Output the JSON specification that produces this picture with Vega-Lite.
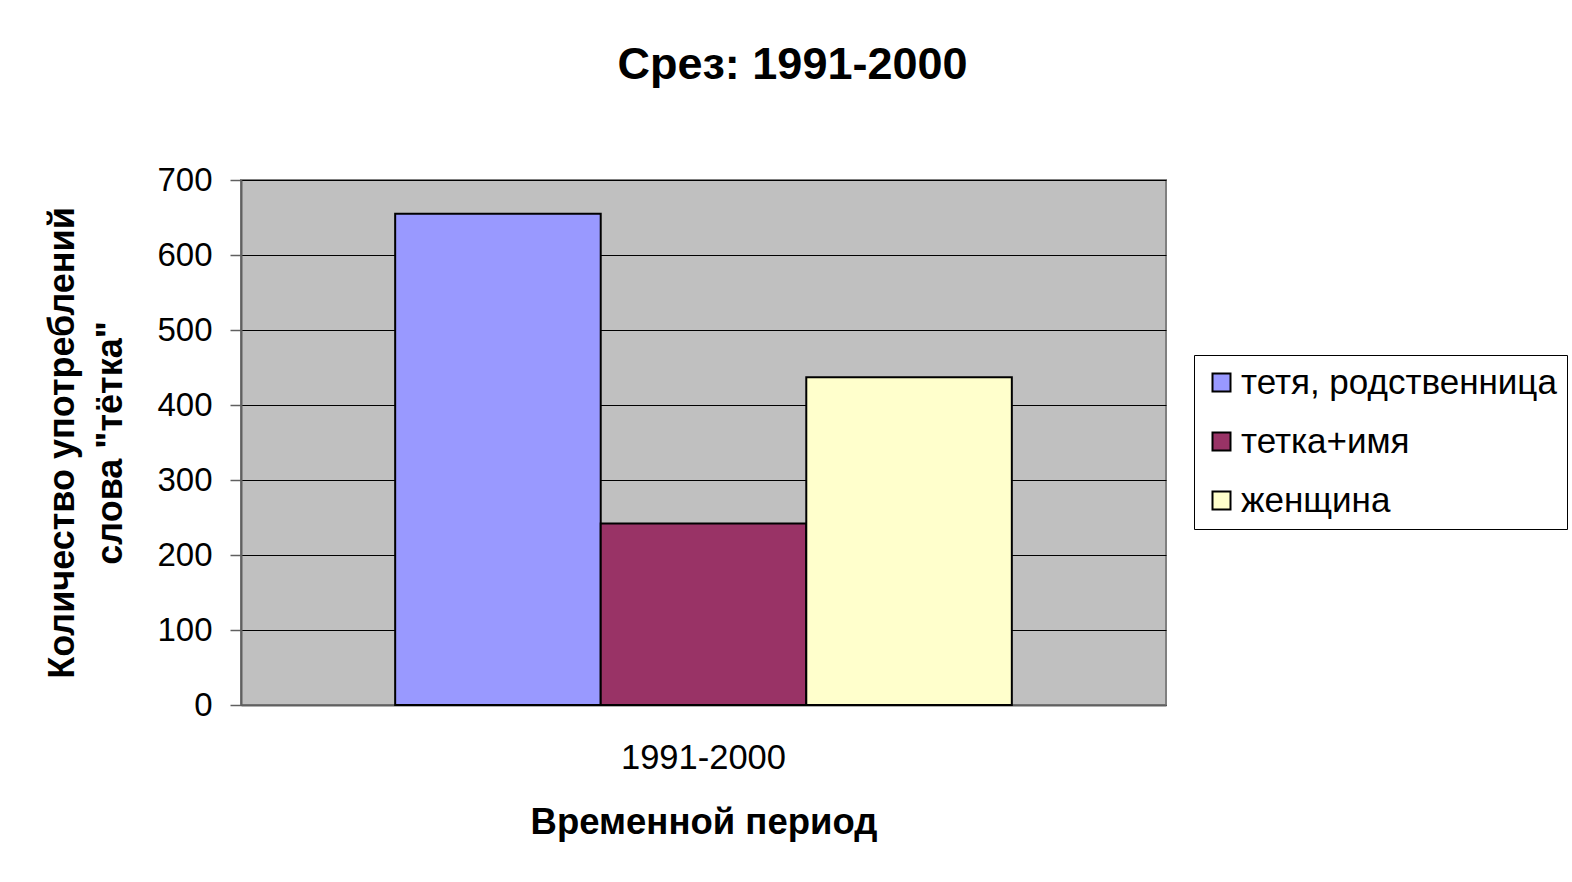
{
  "$schema": "https://vega.github.io/schema/vega-lite/v6.json",
  "autosize": {"type": "none"},
  "width": 925,
  "height": 525,
  "padding": {"left": 241, "top": 180, "right": 406, "bottom": 177},
  "background": "white",
  "title": {
    "text": "Срез: 1991-2000",
    "font": "Liberation Sans",
    "fontSize": 45,
    "fontWeight": "bold",
    "color": "black",
    "anchor": "middle",
    "frame": "group",
    "dx": 89,
    "offset": 76
  },
  "data": {
    "values": [
      {"period": "1991-2000", "series": "тетя, родственница", "count": 655},
      {"period": "1991-2000", "series": "тетка+имя", "count": 242},
      {"period": "1991-2000", "series": "женщина", "count": 437}
    ]
  },
  "mark": {"type": "bar", "stroke": "black", "strokeWidth": 2},
  "encoding": {
    "x": {
      "field": "period",
      "type": "nominal",
      "scale": {"paddingInner": 0, "paddingOuter": 0.25},
      "axis": {
        "title": "Временной период",
        "labelAngle": 0,
        "labelFont": "Liberation Sans",
        "labelFontSize": 34.5,
        "labelColor": "black",
        "labelPadding": 36,
        "ticks": false,
        "domainColor": "#606060",
        "domainWidth": 2,
        "titleFont": "Liberation Sans",
        "titleFontSize": 36.5,
        "titleFontWeight": "bold",
        "titleColor": "black",
        "titlePadding": 30
      }
    },
    "xOffset": {
      "field": "series",
      "type": "nominal",
      "sort": ["тетя, родственница", "тетка+имя", "женщина"],
      "scale": {"paddingInner": 0, "paddingOuter": 0}
    },
    "y": {
      "field": "count",
      "type": "quantitative",
      "scale": {"domain": [0, 700], "nice": false},
      "axis": {
        "title": ["Количество употреблений", "слова \"тётка\""],
        "values": [0, 100, 200, 300, 400, 500, 600, 700],
        "labelFont": "Liberation Sans",
        "labelFontSize": 33,
        "labelColor": "black",
        "labelPadding": 18,
        "tickSize": 11,
        "tickColor": "#606060",
        "tickWidth": 1.5,
        "domainColor": "#606060",
        "domainWidth": 2,
        "grid": true,
        "gridColor": "black",
        "gridWidth": 1,
        "gridOpacity": 1,
        "titleFont": "Liberation Sans",
        "titleFontSize": 36,
        "titleFontWeight": "bold",
        "titleColor": "black",
        "titlePadding": 27,
        "titleLineHeight": 48
      }
    },
    "color": {
      "field": "series",
      "type": "nominal",
      "scale": {
        "domain": ["тетя, родственница", "тетка+имя", "женщина"],
        "range": ["#9999FF", "#993366", "#FFFFCC"]
      },
      "legend": {
        "title": null,
        "orient": "none",
        "legendX": 953,
        "legendY": 175,
        "symbolType": "square",
        "symbolSize": 324,
        "symbolStrokeColor": "black",
        "symbolStrokeWidth": 2,
        "symbolOpacity": 1,
        "labelFont": "Liberation Sans",
        "labelFontSize": 35,
        "labelColor": "black",
        "labelOffset": 2,
        "labelLimit": 400,
        "rowPadding": 23,
        "padding": 10,
        "strokeColor": "black",
        "fillColor": "white"
      }
    }
  },
  "config": {
    "view": {"fill": "#C0C0C0", "stroke": "#808080", "strokeWidth": 2}
  }
}
